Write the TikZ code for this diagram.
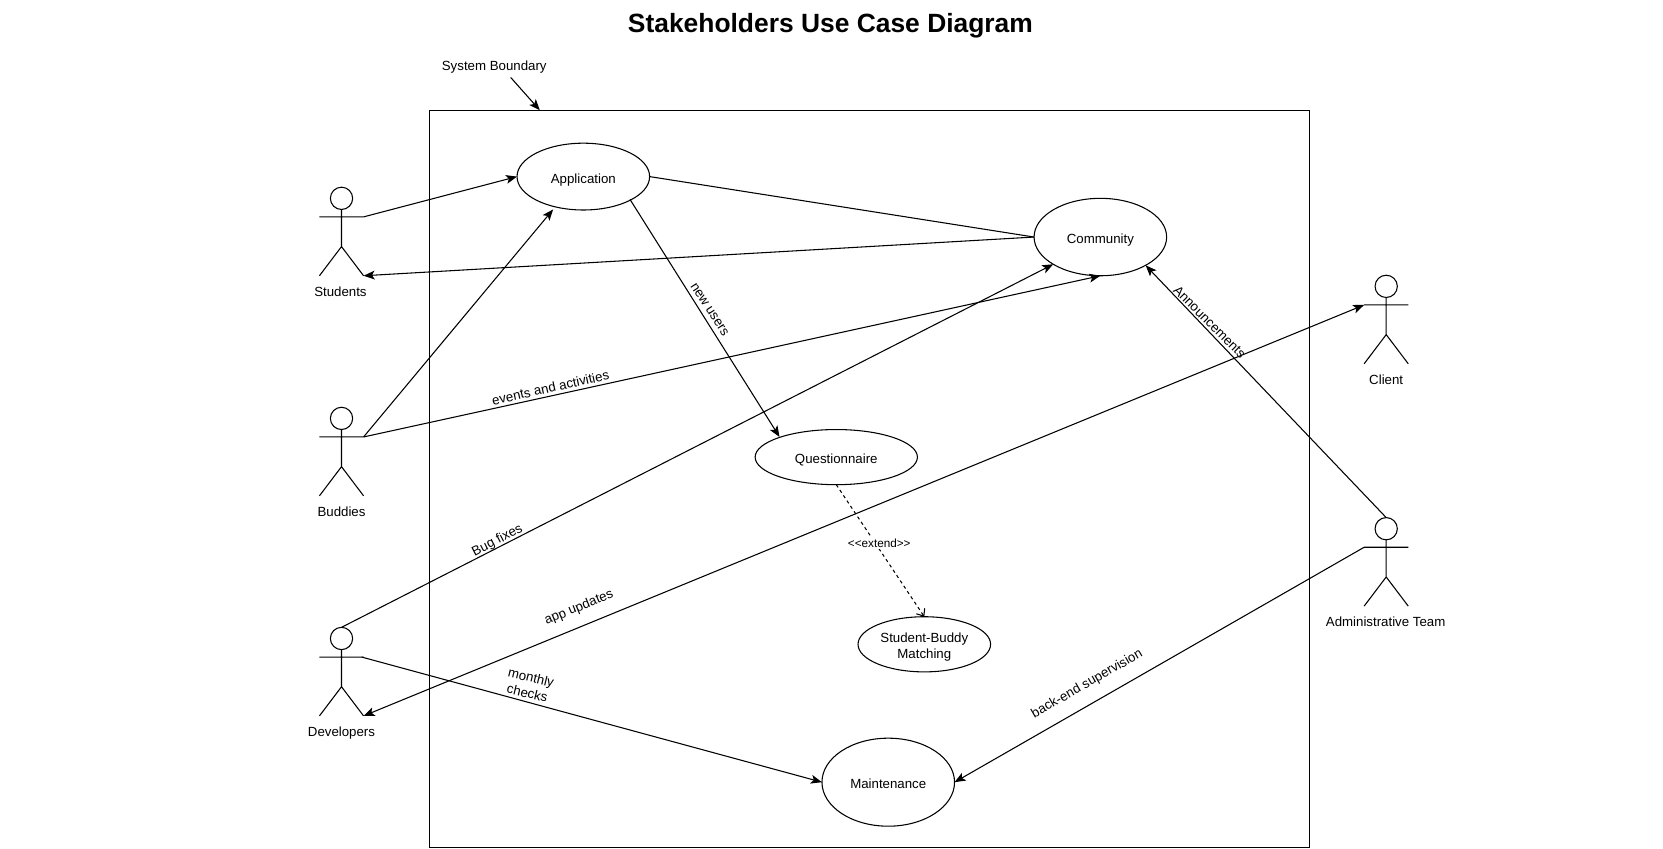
\documentclass[tikz,border=0pt]{standalone}
\usepackage{fontspec}
\setmainfont{Liberation Sans}
\usetikzlibrary{arrows.meta,shapes.geometric}
\newcommand{\fs}{\fontsize{9.95pt}{12.2pt}\selectfont}
\newcommand{\uu}{0.79544pt}
\newcommand{\dn}[2][-1.7pt]{\raisebox{#1}[\height][\depth]{#2}}
\tikzset{
  lw/.style={line width=0.8pt,black},
  uc/.style={draw,ellipse,lw,inner sep=0pt,outer sep=0pt,align=center,font=\fs},
  lbl/.style={inner sep=0pt,align=center,font=\fs},
  lnk/.style={lw,-{Stealth[length=8.3pt,width=6.6pt,inset=2pt]}},
  lnkb/.style={lw,{Stealth[length=8.3pt,width=6.6pt,inset=2pt]}-{Stealth[length=8.3pt,width=6.6pt,inset=2pt]}},
  plain/.style={lw},
  ext/.style={lw,dash pattern=on 2.4pt off 2.4pt,-{Straight Barb[length=4.5pt,width=7.5pt]}},
}
\newcommand{\myactor}[5]{% name, x, head y, label, label x
  \node[draw,circle,lw,inner sep=0pt,outer sep=0pt,minimum size=21*\uu] (#1) at (#2,#3) {};
  \coordinate (#1arm) at (#2,#3+17.5);
  \coordinate (#1armL) at (#2-20.8,#3+17.5);
  \coordinate (#1armR) at (#2+20.8,#3+17.5);
  \coordinate (#1hip) at (#2,#3+45.5);
  \coordinate (#1footL) at (#2-20.8,#3+73);
  \coordinate (#1footR) at (#2+20.8,#3+73);
  \draw[lw] (#1.south) -- (#1hip) (#1armL) -- (#1armR) (#1footL) -- (#1hip) -- (#1footR);
  \node[lbl] (#1lab) at (#5,#3+88) {#4};
}
\begin{document}
\begin{tikzpicture}[x=0.79544pt,y=-0.79544pt]
\useasboundingbox (0,0) rectangle (1568,800.5);
\node[font=\fontsize{19.8pt}{24pt}\selectfont\bfseries,inner sep=0pt] (title) at (783,24) {Stakeholders Use Case Diagram};
\node[draw,lw,minimum width=830*\uu,minimum height=695*\uu,inner sep=0pt,outer sep=0pt] (frame) at (820,451.7) {};
\node[lbl] (sb) at (466,63) {System Boundary};
\coordinate (sbs) at (481.5,73);
\coordinate (sbe) at (509,104);
\draw[lnk] (sbs) -- (sbe);

\node[uc,minimum width=125*\uu,minimum height=63*\uu] (app) at (550,166.5) {\dn[-2.5pt]{Application}};
\node[uc,minimum width=125*\uu,minimum height=73*\uu] (com) at (1037.5,223.5) {\dn[-2.5pt]{Community}};
\node[uc,minimum width=153*\uu,minimum height=52*\uu] (que) at (788.5,431) {\dn[-2.1pt]{Questionnaire}};
\node[uc,minimum width=125*\uu,minimum height=52*\uu] (sbm) at (871.5,607.5) {\dn[-2.4pt]{Student-Buddy}\\\dn{Matching}};
\node[uc,minimum width=125*\uu,minimum height=83*\uu] (mai) at (837.5,737.5) {\dn[-1.1pt]{Maintenance}};

\myactor{stu}{322}{187}{Students}{321}
\myactor{bud}{322}{394.5}{Buddies}{322}
\myactor{dev}{322}{602}{\dn[-0.8pt]{Developers}}{322}
\myactor{cli}{1307}{270}{Client}{1307}
\myactor{adm}{1307}{498.5}{Administrative Team}{1306.5}

\coordinate (appfrombud) at (521.5,197.5);
\coordinate (appqstart) at (594,188);
\coordinate (queend) at (735,412);
\coordinate (devmstart) at (341,619.5);

\draw[lnk] (stuarmR) -- (app.west);
\draw[plain] (app.east) -- (com.west);
\draw[lnk] (com.west) -- (stufootR);
\draw[lnk] (budarmR) -- (appfrombud);
\draw[lnk] (budarmR) -- (com.south);
\draw[lnk] (dev.north) -- (com.210.8);
\draw[lnk] (adm.north) -- (com.328.7);
\draw[lnkb] (devfootR) -- (cliarmL);
\draw[lnk] (devmstart) -- (mai.west);
\draw[lnk] (admarmL) -- (mai.east);
\draw[lnk] (appqstart) -- (queend);
\draw[ext] (que.south) -- (sbm.north);

\node[lbl,rotate=-57] (l1) at (669,292) {new users};
\node[lbl,rotate=12.4] (l2) at (519,365.5) {events and activities};
\node[lbl,rotate=27] (l3) at (469,510) {Bug fixes};
\node[lbl,rotate=-45] (l4) at (1140.5,303.5) {Announcements};
\node[lbl,rotate=22.4] (l5) at (546,573) {app updates};
\node[lbl,rotate=-13.5] (l6) at (499,646) {monthly\\checks};
\node[lbl,rotate=29.8] (l7) at (1025,645) {back-end supervision};
\node[lbl,fill=white,font=\fontsize{8.8pt}{10pt}\selectfont,inner xsep=0.5pt,inner ysep=1pt] (l8) at (829,512) {{<}{<}extend{>}{>}};
\end{tikzpicture}
\end{document}
